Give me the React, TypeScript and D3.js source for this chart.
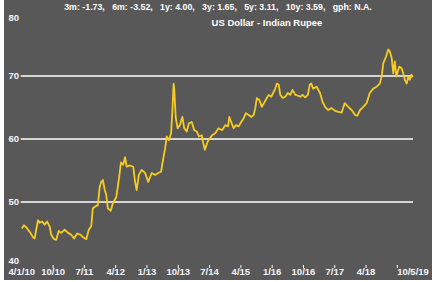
import React from 'react';
import * as d3 from 'd3';

const W = 443;
const H = 282;

// Y axis
const yLabelValues = [40, 50, 60, 70, 80];
const gridValues = [50, 60, 70];

// X axis: observation position (ticks every 10 units)
const xTickLabels = ['4/1/10', '10/10', '7/11', '4/12', '1/13', '10/13', '7/14', '4/15', '1/16', '10/16', '7/17', '4/18'];
const lastLabel = '10/5/19';
const tickStep = 10;
const lastPos = 125;

const statsText = '3m: -1.73,   6m: -3.52,   1y: 4.00,   3y: 1.65,   5y: 3.11,   10y: 3.59,   gph: N.A.';
const subtitle = 'US Dollar - Indian Rupee';

// Series: position in the series, USD/INR rate
const obsPos = [
  0, 0.7, 1.4, 2.5, 3.6, 4.1, 4.6, 5.2, 5.7, 6.5, 7.3, 8.1, 8.9, 9.4, 10.3, 11.0, 11.8, 12.6, 13.7, 14.8,
  15.8, 16.7, 17.7, 18.8, 19.6, 20.6, 21.4, 22.2, 22.7, 23.5, 24.3, 24.9, 25.4, 25.9, 26.5, 27.0, 27.5, 28.4, 29.1, 30.2,
  30.7, 31.2, 31.7, 32.4, 33.0, 33.5, 34.6, 35.6, 36.2, 36.7, 37.4, 38.3, 39.4, 40.4, 41.5, 42.6, 43.6, 44.5, 45.2, 45.8,
  46.3, 47.0, 47.7, 48.1, 48.5, 48.7, 49.2, 49.8, 50.5, 51.3, 51.9, 52.7, 53.4, 54.3, 55.1, 55.9, 56.6, 57.5, 58.0, 58.5,
  59.4, 60.1, 60.8, 61.8, 62.9, 64.0, 65.0, 65.9, 66.3, 66.9, 67.7, 68.4, 69.3, 70.1, 70.9, 71.6, 72.5, 73.3, 74.1, 74.6,
  75.1, 75.9, 76.7, 77.6, 78.3, 78.9, 79.7, 80.5, 81.0, 81.5, 82.1, 82.6, 83.4, 84.2, 85.0, 85.8, 86.5, 87.4, 88.2, 89.0,
  89.7, 90.6, 91.4, 92.0, 92.5, 93.1, 94.2, 95.3, 96.1, 96.9, 97.9, 99.0, 100.0, 101.1, 102.2, 103.2, 104.3, 105.4, 106.5, 107.2,
  108.1, 109.1, 110.2, 111.2, 112.3, 113.4, 114.4, 115.0, 115.5, 116.4, 117.1, 117.6, 118.2, 118.7, 119.2, 119.7, 120.6, 121.4, 121.9, 122.4,
  123.0, 123.5, 124.0, 124.5, 124.9,
];
const rate = [
  45.8, 46.3, 46.0, 45.3, 44.4, 44.2, 45.6, 47.1, 46.7, 46.9, 46.4, 46.9, 46.1, 44.8, 44.1, 44.0, 45.4, 45.1, 45.6, 45.1,
  44.8, 44.2, 45.0, 44.8, 44.4, 44.1, 45.6, 46.2, 49.0, 49.3, 49.5, 52.4, 53.2, 53.5, 51.9, 51.1, 49.0, 48.6, 49.8, 50.8,
  52.5, 54.3, 56.3, 55.9, 57.1, 55.6, 55.8, 55.6, 53.2, 51.9, 54.3, 55.1, 54.6, 53.2, 54.6, 54.3, 54.6, 54.8, 56.9, 58.5,
  60.4, 59.8, 60.9, 64.3, 68.8, 68.0, 63.3, 61.7, 62.2, 63.5, 61.7, 61.2, 62.5, 62.7, 61.4, 61.2, 60.4, 60.6, 59.3, 58.3,
  59.6, 60.1, 60.6, 60.9, 61.7, 61.4, 62.2, 62.0, 63.5, 62.7, 61.7, 62.2, 62.0, 62.7, 63.3, 64.1, 63.8, 63.5, 63.8, 64.9,
  66.5, 66.2, 65.1, 65.9, 66.5, 67.0, 66.7, 67.5, 68.0, 68.8, 68.6, 67.0, 66.5, 66.7, 67.3, 67.0, 67.8, 67.0, 66.9, 66.7,
  67.0, 66.6, 67.0, 68.6, 68.8, 68.0, 68.3, 67.3, 65.9, 65.1, 64.6, 64.9, 64.5, 64.3, 64.2, 65.7, 65.1, 64.6, 63.8, 63.7,
  64.6, 65.1, 65.7, 67.3, 68.0, 68.3, 68.8, 69.9, 72.0, 73.1, 74.2, 73.9, 72.8, 70.4, 72.3, 69.9, 71.5, 71.2, 70.4, 69.4,
  68.8, 69.9, 69.4, 70.2, 69.8,
];

const FONT = "'Liberation Sans Narrow', 'Arial Narrow', 'Liberation Sans', Arial, sans-serif";

export default function App() {
  const x = d3.scaleLinear().domain([0, lastPos]).range([21.8, 413]);
  const y = d3.scaleLinear().domain([40, 80]).range([265, 13]);
  const data = obsPos.map((p, i) => [p, rate[i]] as [number, number]);
  const line = d3
    .line<[number, number]>()
    .x((d) => x(d[0]))
    .y((d) => y(d[1]));

  const tickPositions = d3.range(1, 13).map((i) => i * tickStep);

  return (
    <svg
      width={W}
      height={H}
      style={{ position: 'absolute', left: 0, top: 0, display: 'block' }}
      fontFamily={FONT}
      fontWeight="bold"
    >
      <rect x={0} y={0} width={W} height={H} fill="#ffffff" />
      <rect x={4} y={0} width={428} height={280} fill="#585858" />

      {gridValues.map((v) => (
        <line key={v} x1={20.7} x2={x(lastPos)} y1={y(v)} y2={y(v)} stroke="#ffffff" strokeWidth={1.5} />
      ))}

      {yLabelValues.map((v) => (
        <text
          key={v}
          x={8.5}
          y={Math.max(18, Math.min(260.5, y(v)))}
          dy="0.35em"
          fontSize={9.5}
          fill="#f4f6ff"
        >
          {v}
        </text>
      ))}

      {tickPositions.map((p) => (
        <line key={p} x1={x(p)} x2={x(p)} y1={265} y2={268} stroke="#ffffff" strokeWidth={1} />
      ))}

      {xTickLabels.map((lab, i) => (
        <text key={lab} x={x(i * tickStep)} y={272} dy="0.35em" textAnchor="middle" fontSize={9.5} fill="#f4f6ff">
          {lab}
        </text>
      ))}
      <text x={x(lastPos)} y={272} dy="0.35em" textAnchor="middle" fontSize={9.5} fill="#f4f6ff">
        {lastLabel}
      </text>

      <text x={218} y={7} dy="0.35em" textAnchor="middle" fontSize={8.8} fill="#ffffff" style={{ whiteSpace: 'pre' }}>
        {statsText}
      </text>
      <text x={267} y={23} dy="0.35em" textAnchor="middle" fontSize={9.5} fill="#ffffff">
        {subtitle}
      </text>

      <path d={line(data) ?? ''} fill="none" stroke="#f7cc1f" strokeWidth={1.8} strokeLinejoin="round" />
    </svg>
  );
}
